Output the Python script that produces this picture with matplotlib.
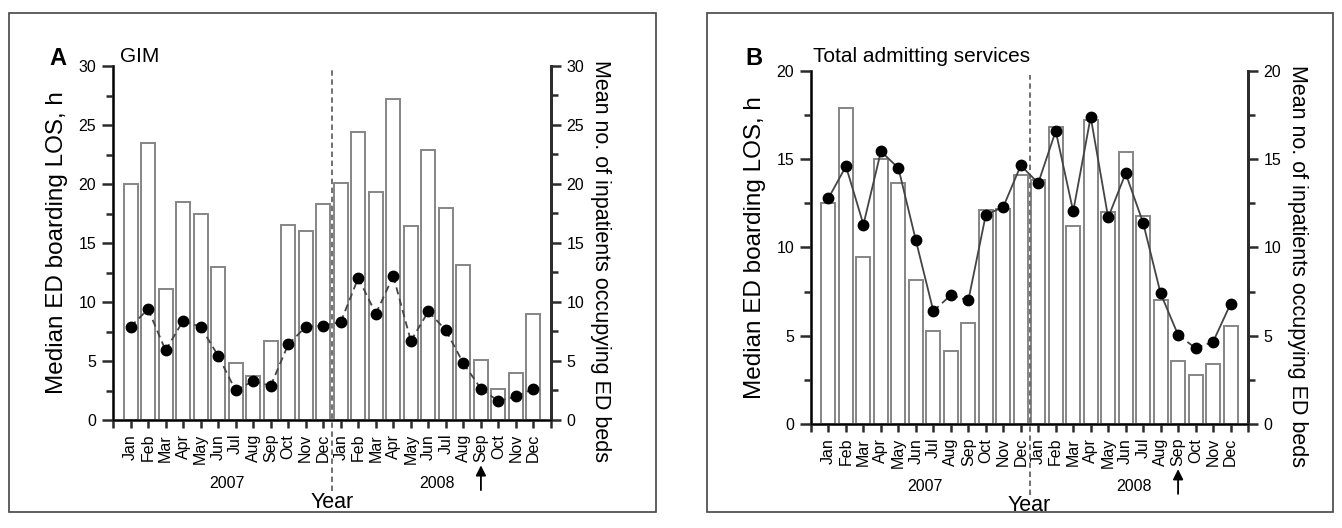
import matplotlib.pyplot as plt
import matplotlib.transforms as mtransforms
from matplotlib.patches import Rectangle
from matplotlib.ticker import MultipleLocator

plt.rcParams["font.family"] = ["Liberation Sans", "DejaVu Sans"]

months = ["Jan", "Feb", "Mar", "Apr", "May", "Jun",
          "Jul", "Aug", "Sep", "Oct", "Nov", "Dec"] * 2
years = ["2007", "2008"]

# Panel A: GIM
gim_boarding_los = [20.0, 23.5, 11.1, 18.5, 17.5, 13.0, 4.8, 3.7, 6.7, 16.5, 16.0, 18.3,
                    20.1, 24.4, 19.3, 27.2, 16.4, 22.9, 18.0, 13.1, 5.1, 2.65, 4.0, 9.0]
gim_inpatients = [7.9, 9.4, 5.9, 8.4, 7.9, 5.45, 2.5, 3.3, 2.9, 6.4, 7.9, 8.0,
                  8.3, 12.05, 9.0, 12.2, 6.7, 9.2, 7.6, 4.8, 2.65, 1.6, 2.0, 2.65]

# Panel B: total admitting services
total_boarding_los = [12.5, 17.9, 9.45, 15.0, 13.65, 8.15, 5.25, 4.15, 5.75, 12.15, 12.2, 14.1,
                      13.8, 16.8, 11.2, 17.2, 12.0, 15.4, 11.8, 7.05, 3.55, 2.75, 3.4, 5.55]
total_inpatients = [12.8, 14.6, 11.3, 15.45, 14.5, 10.4, 6.4, 7.3, 7.0, 11.85, 12.3, 14.65,
                    13.65, 16.6, 12.05, 17.4, 11.7, 14.2, 11.4, 7.4, 5.05, 4.3, 4.65, 6.8]

SPINE = "#2b2b2b"
W, H = 1342, 528


def px(x0, y0, x1, y1):
    """pixel box (top-left origin) -> figure rect"""
    return [x0 / W, 1 - y1 / H, (x1 - x0) / W, (y1 - y0) / H]


def draw_panel(fig, rect, frame, letter, title, title_x, bars, dots, ymax,
               dashed_segments, arrow_idx=20):
    fx0, fy0, fx1, fy1 = frame
    fig.patches.append(Rectangle((fx0 / W, 1 - fy1 / H), (fx1 - fx0) / W, (fy1 - fy0) / H,
                                 transform=fig.transFigure, fill=False,
                                 edgecolor="#444444", lw=1.2))

    ax = fig.add_axes(rect)
    x = list(range(len(bars)))
    ax.bar(x, bars, width=0.8, facecolor="white", edgecolor="#858585", lw=1.4, zorder=2)

    ax.set_xlim(-1, 24)
    ax.set_ylim(0, ymax)
    ax.spines["top"].set_visible(False)
    for side in ("left", "right", "bottom"):
        ax.spines[side].set_linewidth(2.0)
        ax.spines[side].set_color(SPINE)

    ax.set_xticks(x)
    ax.set_xticklabels(months, rotation=90, fontsize=11.5)
    ax.set_xticks([-1, 24], minor=True)
    ax.tick_params(axis="x", which="both", direction="out", length=6, width=1.8,
                   color=SPINE, pad=4)
    ax.yaxis.set_major_locator(MultipleLocator(5))
    ax.yaxis.set_minor_locator(MultipleLocator(2.5))
    ax.tick_params(axis="y", which="major", direction="out", length=8, width=1.8,
                   color=SPINE, labelsize=11.5, pad=4)
    ax.tick_params(axis="y", which="minor", direction="out", length=5, width=1.8,
                   color=SPINE)

    ax2 = ax.twinx()
    ax2.set_ylim(0, ymax)
    ax2.spines["top"].set_visible(False)
    ax2.spines["right"].set_linewidth(2.0)
    ax2.spines["right"].set_color(SPINE)
    ax2.yaxis.set_major_locator(MultipleLocator(5))
    ax2.yaxis.set_minor_locator(MultipleLocator(2.5))
    ax2.tick_params(axis="y", which="major", direction="out", length=7, width=1.8,
                    color=SPINE, labelsize=11.5, pad=4)
    ax2.tick_params(axis="y", which="minor", direction="out", length=5, width=1.8,
                    color=SPINE)

    # inpatient line with markers
    for i in range(len(dots) - 1):
        ls = (0, (4, 2.5)) if i in dashed_segments else "-"
        ax2.plot(x[i:i + 2], dots[i:i + 2], color="#444444", lw=1.3, ls=ls, zorder=3)
    ax2.plot(x, dots, ls="none", marker="o", ms=7.5, color="black", zorder=4)

    trans = mtransforms.blended_transform_factory(ax.transData, ax.transAxes)
    ax.plot([11.5, 11.5], [-0.2, 0.99], transform=trans, color="#666666", lw=1.3,
            ls=(0, (3, 2)), clip_on=False, zorder=5)

    ax.text(5.5, -0.178, years[0], transform=trans, ha="center", va="center", fontsize=11.5)
    ax.text(17.5, -0.178, years[1], transform=trans, ha="center", va="center", fontsize=11.5)
    ax.text(11.5, -0.232, "Year", transform=trans, ha="center", va="center", fontsize=15.5)
    ax.annotate("", xy=(arrow_idx, -0.128), xytext=(arrow_idx, -0.198),
                xycoords=trans, textcoords=trans,
                arrowprops=dict(arrowstyle="-|>,head_length=0.6,head_width=0.3",
                                color="black", lw=1.3, shrinkA=0, shrinkB=0))

    ax.text(-0.128, 0.5, "Median ED boarding LOS, h", transform=ax.transAxes,
            rotation=90, ha="center", va="center", fontsize=17.5)
    ax2.text(1.09, 1.017, "Mean no. of inpatients occupying ED beds",
             transform=ax2.transAxes, rotation=270, ha="left", va="top", fontsize=15.5)

    fig.text(letter[1] / W, 1 - 65 / H, letter[0], fontsize=17, fontweight="bold",
             ha="left", va="baseline")
    fig.text(title_x / W, 1 - 62 / H, title, fontsize=15, ha="left", va="baseline")
    return ax, ax2


fig = plt.figure(figsize=(13.42, 5.28), dpi=100)

draw_panel(fig, px(113, 66, 551, 420), (9, 13, 656, 512), ("A", 49), "GIM", 120,
           gim_boarding_los, gim_inpatients, 30, dashed_segments=set(range(23)))
draw_panel(fig, px(811, 71, 1248, 424), (707, 13, 1333, 512), ("B", 745),
           "Total admitting services", 813,
           total_boarding_los, total_inpatients, 20, dashed_segments={6, 7, 20, 21})

fig.savefig("out.png", dpi=100)
